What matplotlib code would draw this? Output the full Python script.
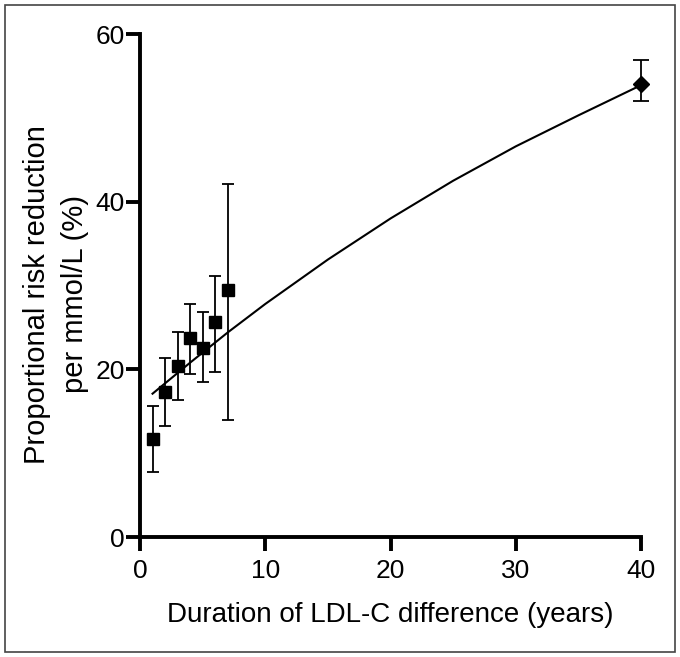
import matplotlib.pyplot as plt
from matplotlib.patches import Rectangle

plt.rcParams['font.family'] = ['Liberation Sans', 'DejaVu Sans']

# Trial data: years of LDL-C difference vs risk reduction per mmol/L
years = [1, 2, 3, 4, 5, 6, 7]
reduction = [11.7, 17.3, 20.4, 23.7, 22.6, 25.6, 29.5]
err_low = [7.8, 13.2, 16.3, 19.5, 18.5, 19.7, 14.0]
err_high = [15.6, 21.3, 24.5, 27.8, 26.8, 31.1, 42.1]

# Mendelian randomisation estimate (lifelong)
mr_year = [40]
mr_value = [54.0]
mr_low = [52.0]
mr_high = [56.9]

# Fitted curve
curve_x = [1, 4, 7, 10, 15, 20, 25, 30, 35, 40]
curve_y = [17.1, 20.8, 24.4, 27.8, 33.1, 38.0, 42.5, 46.6, 50.3, 53.9]

fig = plt.figure(figsize=(6.8, 6.57), dpi=100)
ax = fig.add_axes([0.2059, 0.1826, 0.7368, 0.7656])

ax.plot(curve_x, curve_y, color='black', lw=1.5, zorder=2)

yerr = [[r - lo for r, lo in zip(reduction, err_low)],
        [hi - r for r, hi in zip(reduction, err_high)]]
ax.errorbar(years, reduction, yerr=yerr, fmt='s', color='black', ms=8.5,
            ecolor='black', elinewidth=1.3, capsize=4.2, capthick=1.3, zorder=3)

mr_err = [[v - lo for v, lo in zip(mr_value, mr_low)],
          [hi - v for v, hi in zip(mr_value, mr_high)]]
ax.errorbar(mr_year, mr_value, yerr=mr_err, fmt='D', color='black', ms=8,
            ecolor='black', elinewidth=1.3, capsize=5.5, capthick=1.3,
            zorder=3, clip_on=False)

ax.set_xlim(0, 40)
ax.set_ylim(0, 60)
ax.set_xticks([0, 10, 20, 30, 40])
ax.set_yticks([0, 20, 40, 60])

for side in ['top', 'right']:
    ax.spines[side].set_visible(False)
for side in ['left', 'bottom']:
    ax.spines[side].set_linewidth(2.8)
ax.tick_params(width=2.8, length=10, labelsize=19)
ax.tick_params(axis='x', pad=6)
ax.tick_params(axis='y', pad=1)

ax.set_xlabel('Duration of LDL-C difference (years)', fontsize=20, va='top')
ax.set_ylabel('Proportional risk reduction\nper mmol/L (%)', fontsize=21,
              linespacing=1.45)
ax.xaxis.set_label_coords(0.5, -0.129)
ax.yaxis.set_label_coords(-0.102, 0.483)

# thin frame round the whole figure
fig.patches.append(Rectangle((5 / 680, 5 / 657), 670 / 680, 647 / 657,
                             transform=fig.transFigure, fill=False,
                             edgecolor='#444444', lw=1.2))

fig.savefig('out.png', dpi=100)
